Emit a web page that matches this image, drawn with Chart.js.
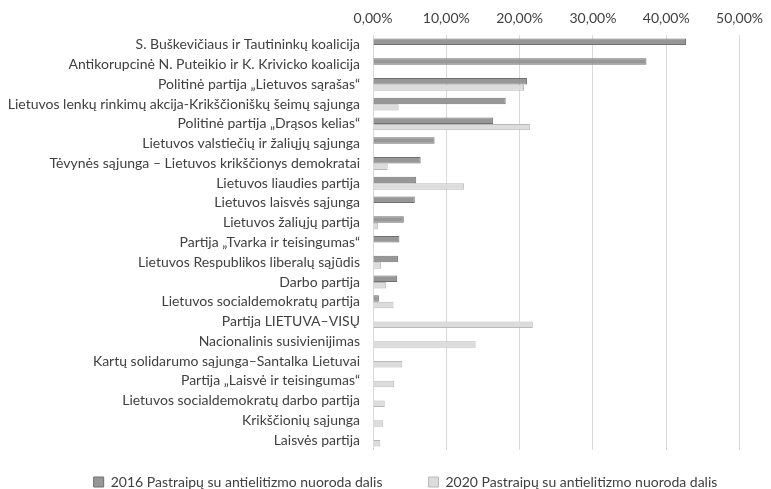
<!DOCTYPE html>
<html>
<head>
<meta charset="utf-8">
<script src="https://cdn.jsdelivr.net/npm/chart.js@4/dist/chart.umd.min.js"></script>
<style>
  html, body { margin: 0; padding: 0; background: #fff; }
  #chart { display: block; }
</style>
</head>
<body>
<canvas id="chart" width="771" height="489"></canvas>
<script>
// Party names, top to bottom
const PARTIES = [
    'S. Buškevičiaus ir Tautininkų koalicija',
    'Antikorupcinė N. Puteikio ir K. Krivicko koalicija',
    'Politinė partija „Lietuvos sąrašas“',
    'Lietuvos lenkų rinkimų akcija-Krikščioniškų šeimų sąjunga',
    'Politinė partija „Drąsos kelias“',
    'Lietuvos valstiečių ir žaliųjų sąjunga',
    'Tėvynės sąjunga – Lietuvos krikščionys demokratai',
    'Lietuvos liaudies partija',
    'Lietuvos laisvės sąjunga',
    'Lietuvos žaliųjų partija',
    'Partija „Tvarka ir teisingumas“',
    'Lietuvos Respublikos liberalų sąjūdis',
    'Darbo partija',
    'Lietuvos socialdemokratų partija',
    'Partija LIETUVA–VISŲ',
    'Nacionalinis susivienijimas',
    'Kartų solidarumo sąjunga–Santalka Lietuvai',
    'Partija „Laisvė ir teisingumas“',
    'Lietuvos socialdemokratų darbo partija',
    'Krikščionių sąjunga',
    'Laisvės partija'
];

// Share of paragraphs with anti-elitism reference, %
const SHARE_2016 = [42.7, 37.3, 21.0, 18.1, 16.4, 8.4, 6.5, 5.9, 5.7, 4.2, 3.6, 3.4, 3.3, 0.8,
    null, null, null, null, null, null, null];
const SHARE_2020 = [null, null, 20.6, 3.5, 21.4, null, 2.0, 12.4, null, 0.7, null, 1.1, 1.8, 2.8,
    21.8, 14.0, 4.0, 2.9, 1.6, 1.4, 1.0];

const LABEL_2016 = '2016 Pastraipų su antielitizmo nuoroda dalis';
const LABEL_2020 = '2020 Pastraipų su antielitizmo nuoroda dalis';

const X_MIN = 0;
const X_MAX = 50;
const X_STEP = 10;

const FONT_FAMILY = 'Lato, "Open Sans", sans-serif';
const TEXT_COLOR = '#404040';

const formatPct = v => v.toFixed(2).replace('.', ',') + '%';

// default legend items, with a wider gap after the first one
function legendLabels(chart) {
    const items = Chart.defaults.plugins.legend.labels.generateLabels(chart);
    items.forEach((item, i) => {
        if (i < items.length - 1) item.text += '\u2003\u2003';
    });
    return items;
}

// legend row sits a bit right of the canvas centre in the original
const legendOffset = {
    id: 'legendOffset',
    afterLayout(chart) {
        if (chart.legend) chart.legend.left = 64;
    }
};

const ctx = document.getElementById('chart').getContext('2d');

new Chart(ctx, {
    type: 'bar',
    data: {
        labels: PARTIES,
        datasets: [{
            label: LABEL_2016,
            data: SHARE_2016,
            backgroundColor: '#979797',
            borderColor: '#707070',
            borderWidth: 1
        }, {
            label: LABEL_2020,
            data: SHARE_2020,
            backgroundColor: '#dcdcdc',
            borderColor: '#b9b9b9',
            borderWidth: 1
        }]
    },
    options: {
        indexAxis: 'y',
        responsive: false,
        animation: false,
        devicePixelRatio: 1,
        datasets: {
            bar: {
                categoryPercentage: 0.65,
                barPercentage: 1.0
            }
        },
        layout: {
            padding: { top: 0, right: 24, bottom: 0, left: 0 }
        },
        scales: {
            x: {
                position: 'top',
                min: X_MIN,
                max: X_MAX,
                ticks: {
                    stepSize: X_STEP,
                    padding: 8,
                    color: TEXT_COLOR,
                    font: { family: FONT_FAMILY, size: 14 },
                    callback: v => formatPct(v)
                },
                grid: {
                    color: '#d9d9d9',
                    drawTicks: false
                },
                border: { display: false },
                afterFit: scale => { scale.height = 35; }
            },
            y: {
                grid: { display: false, drawTicks: false },
                border: { display: false },
                ticks: {
                    padding: 13,
                    autoSkip: false,
                    color: TEXT_COLOR,
                    font: { family: FONT_FAMILY, size: 14 }
                },
                afterFit: scale => { scale.width = 373; }
            }
        },
        plugins: {
            legend: {
                position: 'bottom',
                maxHeight: 39,
                labels: {
                    boxWidth: 10,
                    boxHeight: 10,
                    padding: 25,
                    color: TEXT_COLOR,
                    font: { family: FONT_FAMILY, size: 14 },
                    generateLabels: legendLabels
                }
            },
            tooltip: { enabled: false }
        }
    },
    plugins: [legendOffset]
});
</script>
</body>
</html>
